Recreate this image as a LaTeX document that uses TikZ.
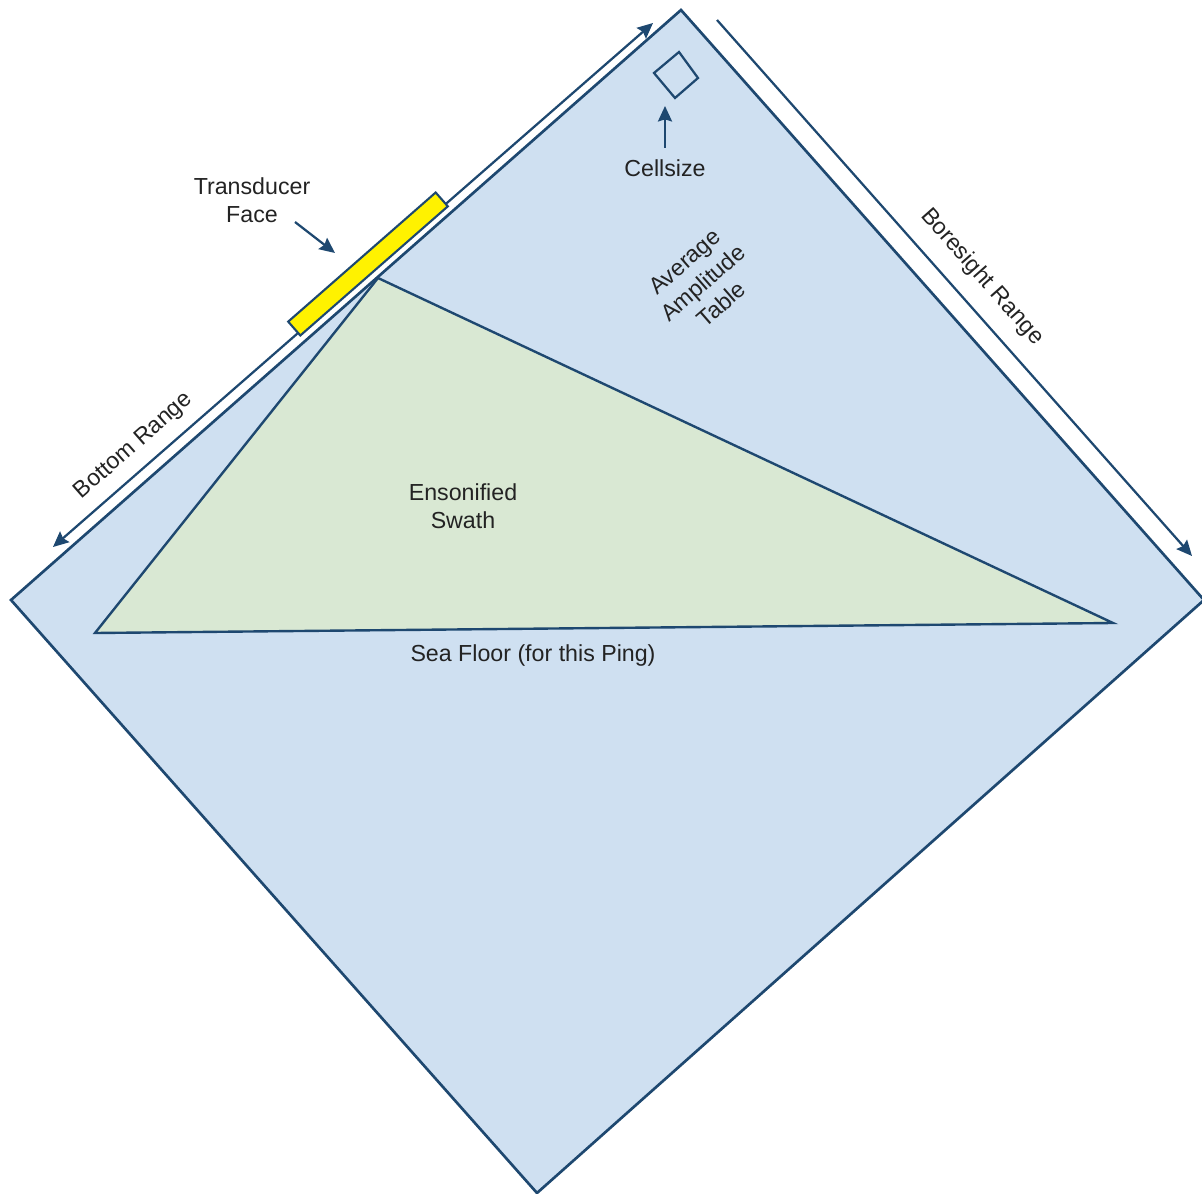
\documentclass[tikz,border=0pt]{standalone}
\usepackage{fontspec}
\setmainfont{Liberation Sans}
\usetikzlibrary{arrows.meta, positioning}
\definecolor{edgeblue}{RGB}{30,72,112}
\definecolor{tablefill}{RGB}{207,224,241}
\definecolor{swathfill}{RGB}{217,232,211}
\definecolor{labelgray}{RGB}{35,35,35}
\tikzset{
  outline/.style={
    draw=edgeblue,
    line width=1.9pt,
    line join=miter
  },
  range arrow/.style={
    -{Stealth[length=11pt, width=10pt, inset=1.5pt]},
    draw=edgeblue,
    line width=1.6pt
  },
  label text/.style={
    text=labelgray,
    font=\fontsize{16.5}{20}\selectfont,
    align=center,
    inner sep=0pt
  },
  transducer/.style={
    draw=edgeblue,
    fill=yellow,
    line width=1.5pt,
    minimum width=4.9cm,
    minimum height=0.46cm,
    inner sep=0pt
  }
}

\begin{document}
\begin{tikzpicture}[x=0.025cm, y=-0.025cm]
    \useasboundingbox (0,0) rectangle (1202,1194);

    % amplitude table (rotated rectangle)
    \coordinate (T) at (681,10);
    \coordinate (L) at (11,600);
    \coordinate (B) at (537,1193);
    \coordinate (R) at (1204,600);
    \filldraw[outline, fill=tablefill] (T) -- (R) -- (B) -- (L) -- cycle;

    % ensonified swath
    \coordinate (apex) at (378,278);
    \coordinate (swathL) at (95,633);
    \coordinate (swathR) at (1113,623);
    \filldraw[outline, fill=swathfill, line width=1.7pt] (apex) -- (swathR) -- (swathL) -- cycle;

    % bottom range, both ways along the upper left side
    \coordinate (brLow) at (53,547);
    \coordinate (brHigh) at (653,23);
    \draw[range arrow, {Stealth[length=11pt, width=10pt, inset=1.5pt]}-{Stealth[length=11pt, width=10pt, inset=1.5pt]}] (brLow) -- (brHigh);

    % transducer face sits on the arrow
    \node[transducer, rotate=41.2] (xdcr) at (368,264) {};

    % boresight range
    \coordinate (bsStart) at (717,20);
    \coordinate (bsEnd) at (1192,556);
    \draw[range arrow] (bsStart) -- (bsEnd);

    % one cell of the table
    \coordinate (cN) at (679,52);
    \coordinate (cE) at (698,78);
    \coordinate (cS) at (675,98);
    \coordinate (cW) at (654,73);
    \draw[outline, line width=1.6pt] (cN) -- (cE) -- (cS) -- (cW) -- cycle;

    % labels
    \node[label text] (face) at (252,200) {Transducer\\Face};
    \node[label text] (cellsize) at (665,168) {Cellsize};
    \node[label text, rotate=41] (table) at (703,283) {Average\\Amplitude\\Table};
    \node[label text, rotate=41.3] (bottomrange) at (134,446) {Bottom Range};
    \node[label text, rotate=-48.6] (boresight) at (982,277) {Boresight Range};
    \node[label text] (swath) at (463,506) {Ensonified\\Swath};
    \node[label text] (seafloor) at (533,655) {Sea Floor (for this Ping)};

    % pointers
    \coordinate (faceTail) at (295,222);
    \coordinate (faceTip) at (335,253);
    \draw[range arrow] (faceTail) -- (faceTip);
    \coordinate (cellTail) at (665,148);
    \coordinate (cellTip) at (665,106);
    \draw[range arrow] (cellTail) -- (cellTip);

\end{tikzpicture}
\end{document}
